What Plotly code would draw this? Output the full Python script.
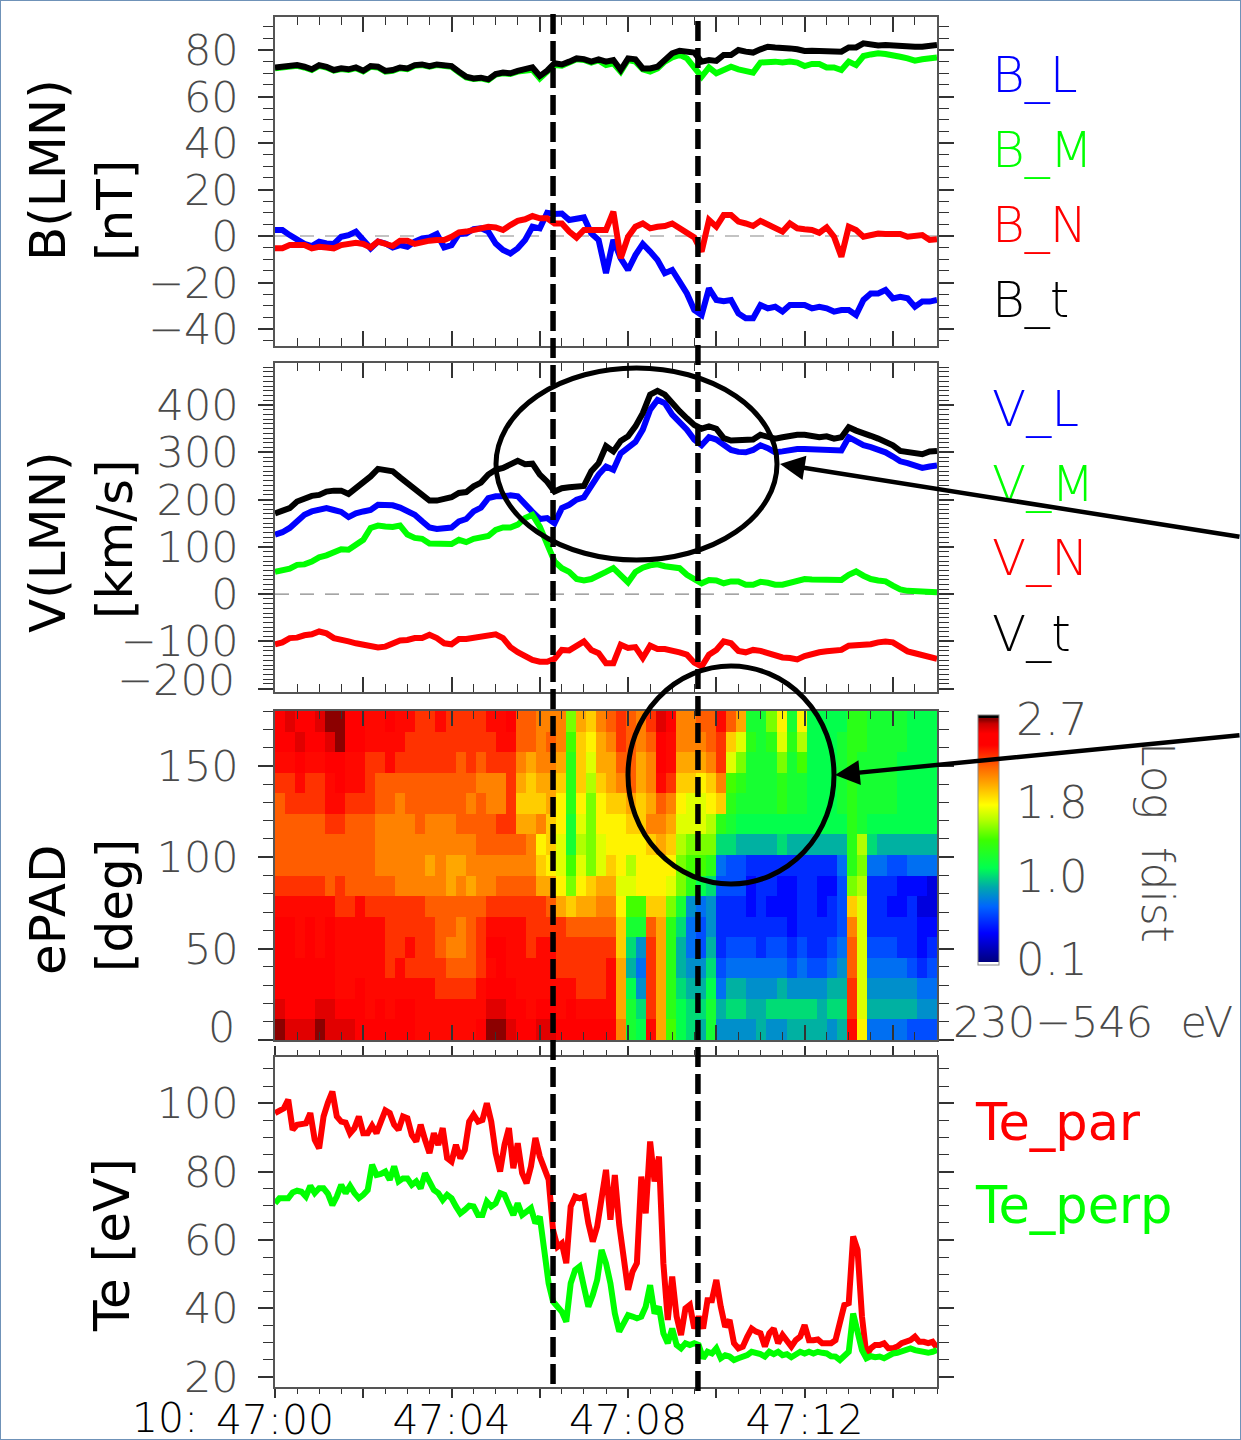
import plotly.graph_objects as go

W, H = 1241, 1440
FONT = "DejaVu Sans"
GRAY = "#4a4a4a"

# ---- time grids (seconds after 10:47:00)
t_fields = list(range(0, 901, 10))
t_te = list(range(0, 901, 6))

# ---- B(LMN) [nT]
B_L = [2.6,2.6,.4,-1.4,-3.4,-4.3,-2.4,-3.2,-3.4,-.3,.4,1.9,-1.7,-5.3,-2.4,-3.2,-4.9,-3.9,-4.6,-2.4,-1,-.6,.9,-4.9,-3.9,.9,1.1,3,3.3,1.9,-3.2,-6,-7.5,-5.3,-1.7,4,3.3,10,9.5,9.7,6.9,7.2,8,1.1,-1.7,
       -16,-1.7,-9.6,-14.6,-8.2,-3.4,-6.7,-10.3,-16,-14.6,-19.6,-24.7,-31.8,-34,-22.5,-27.5,-28,-27.5,-33.3,-35.4,-35.4,-29.7,-31.1,-30.4,-32.5,-29.7,-29.7,-29.7,-31.1,-30.4,-31.1,-32.5,-31.8,-31.8,-34,-27.5,-24.7,-24.7,-23.2,-26.8,-26.1,-26.8,-30.4,-28.2,-28.2,-27.5]
B_M = [72.2,72.5,73,73.2,72.5,71.4,73.2,72.5,71.1,71.8,71.4,72.2,70.8,72.8,72.5,70.7,71.1,72.2,71.8,73.2,73.5,72.8,73.5,73.2,72.8,70.4,68.2,67.5,67.8,67.1,69.4,70,69.7,70.7,71.4,71.5,67.8,70.5,73.6,73.3,74.7,76,75.7,74.6,75.5,
       73.5,74.3,70.7,75.7,75,71.7,70.7,72.1,75,76.8,77.9,76.4,72.1,68.5,72.5,70,71.4,72.8,71.7,70.7,70.3,74.6,75,75,74.6,75,74.6,73.1,74,74,72.5,72.5,71.4,75,73.5,77.4,78.1,78.6,78.3,77.9,77.1,76.4,75.4,76,76.7,76.8]
B_N = [-5.3,-5.3,-3.9,-3.6,-3.9,-5.3,-4.6,-4.9,-5.3,-3.9,-3.4,-2.9,-3.4,-4.9,-2.4,-3.6,-4.3,-2,-2,-3.4,-2.4,-2,-1.7,-1.7,-.3,1.6,1.9,2.6,3.3,4,3.7,2.6,4.7,6.5,7.2,8.6,7.6,7.6,5.4,5.4,1.9,-.7,2.6,2.6,2.6,
       2.6,10.5,-9.6,-.3,4,5.4,3.3,4,4.3,5.4,3.3,.9,-.6,-6.7,6.9,4,9,9,6.2,5.4,4.3,6.5,5,3.3,1.9,5.4,3.3,2.9,2.6,1.4,3.7,-.3,-8.9,4,2.6,-.3,.4,1.1,.9,.9,.9,-.3,0,.4,-1.7,-1.4]
B_t = [72.5,72.8,73.3,73.5,72.8,71.7,73.5,72.8,71.4,72.1,71.7,72.5,71.1,73.1,72.8,71,71.4,72.5,72.1,73.5,73.8,73.1,73.8,73.5,73.1,70.7,68.5,67.8,68.1,67.4,69.7,70.3,70,71,71.7,72.5,68.8,71.1,74.3,73.8,75,76.4,76.1,75,76,
       75,75.7,71.4,76.4,76,72.1,72.1,72.8,76,78.6,79.7,79.3,78.9,75,75.7,75.3,77.9,77.9,80,79.3,78.9,80.3,81.4,81.1,81.1,80.7,80.3,79.6,79.7,79.7,79.7,79.7,79.3,81.1,81.1,82.9,82.2,82,82.2,81.9,82,81.4,81.4,81.4,81.9,82.2]

# ---- V(LMN) [km/s]
V_L = [126,131,140,155,168,175,177,182,178,174,163,171,175,178,189,188,188,183,175,168,154,141,138,138,141,154,159,175,183,203,207,207,209,207,189,174,159,161,150,182,189,200,205,228,253,
       270,263,298,309,322,348,390,411,404,380,365,348,327,315,332,327,316,305,301,300,305,315,309,300,302,305,307,307,307,305,307,306,304,332,323,315,311,307,300,291,281,277,272,267,270,272]
V_M = [47,49,54,62,63,69,78,82,89,95,94,103,115,140,145,143,142,145,126,119,117,107,106,106,106,115,110,117,121,123,136,141,141,147,161,168,143,104,69,55,47,32,29,32,41,
       47,55,41,25,47,56,61,63,59,56,55,41,32,23,30,29,23,27,27,20,20,26,24,20,20,24,30,32,31,31,32,31,30,41,48,39,32,29,27,18,10,7,6,6,6,4]
V_N = [-106,-102,-93,-92,-87,-85,-79,-83,-93,-95,-100,-104,-106,-109,-113,-111,-106,-98,-97,-93,-93,-86,-93,-104,-106,-95,-95,-93,-92,-90,-85,-93,-112,-123,-132,-139,-143,-143,-137,-118,-119,-109,-100,-118,-125,
       -146,-146,-107,-114,-112,-135,-109,-116,-116,-118,-123,-128,-145,-153,-128,-118,-100,-104,-120,-123,-118,-120,-124,-131,-134,-135,-138,-131,-126,-123,-121,-118,-118,-109,-109,-109,-106,-102,-100,-102,-112,-121,-125,-128,-133,-137]
V_t = [171,175,182,196,203,208,210,217,219,219,212,224,233,249,265,261,260,247,235,226,214,198,198,201,205,214,216,228,236,253,263,267,275,282,275,276,253,238,217,224,226,229,229,260,277,
       313,302,324,334,355,383,422,430,422,402,387,372,358,350,355,350,330,325,325,324,327,337,334,329,332,336,337,337,334,332,334,329,332,353,346,339,335,329,322,315,303,301,300,296,302,303]

# ---- Te [eV]
Te_par = [97.1,98,98.5,101,92.2,93.7,94.1,94.1,97.1,89.3,86.8,96.1,100.2,103.4,96.1,94.6,94.3,91.2,92.7,96.1,91.2,91.2,93.4,91.2,94.6,97.9,97.1,93.7,92.2,96.1,95.6,90.7,88.8,93.7,89.3,85.4,91.2,87.8,92.7,83.9,82.9,87.8,83.9,86.3,94.6,96.6,94.6,95.1,100,94.6,85.4,80,87.8,92.7,81,88.3,79.5,76.6,81.5,89.8,84.4,81.5,77.6,62.9,58,59,53.2,69.8,72.7,72.2,72.7,64.9,59.5,63.9,73.7,
          80.5,65.9,79,64.4,55.1,45.4,50.7,53.2,78.5,67.8,88.8,77.1,84.4,53.2,36.6,49.3,37.6,32.2,40,41,34.1,37.6,34.1,42.4,42.4,48.3,40.5,34.6,36.6,29.8,28.3,28.8,31.7,34.1,33.2,32.7,28.8,32.7,34.1,29.8,32.2,30.7,28.8,30.7,31.7,35.1,30.7,30.7,30.9,29.8,30,29.8,30.7,35.1,41,41.5,61,57.1,37.6,26.3,28.3,29.3,29.3,29.8,28.3,28.3,28.8,29.8,30.2,30.7,31.7,30.2,30.2,29.8,30.2,28.5]
Te_perp = [70.7,72.2,72.2,72.2,73.9,74.4,74.1,72.7,75.8,73.7,75.1,75.1,73.5,70.2,72.7,76.1,73.7,75.8,73.7,72.2,73.2,74.6,82,79,79.3,80,77.6,81.5,77.1,78,78,76.1,77.1,75.1,79.5,77.1,74.6,73.7,71.7,73.2,72.2,69.8,67.8,68.8,70,69.8,67.3,67.3,71.2,69.8,70.7,73.7,73.2,70.2,67.3,70.7,67.3,68.3,69.3,64.9,66.8,57.1,47.3,42,40.7,39,36.1,47.3,51.2,52.2,46.3,40.5,43.9,48.3,57.1,
           53.2,47.3,38.5,33.2,36.1,38,37.6,37.1,37.6,40.5,46.8,38.5,40.5,32.7,29.8,34.1,29.3,28.3,29.8,29.3,29.8,29.3,25.4,27.3,26.8,28.3,25.4,26.3,25.9,24.9,25.4,25.9,26.3,27.3,27,26.6,25.9,27.3,26.6,27.3,26.3,26.6,25.7,26.3,27.3,26.8,27.3,26.8,27.3,27,26.8,26,25.9,24.9,26.3,27.3,38.5,32.7,27.8,25.4,26,25.7,25.9,25.4,26.3,26.8,27,27.3,27.8,28.3,27.8,27.6,27.3,27,27.3,27.8]

# ---- ePAD log fdist x10, bottom row (0-11 deg) first, 16 pitch-angle bins by 66 time columns
epad_rows = [
 [27,26,26,26,27,26,26,26,25,25, 25,25,25,25,24,24,24,24,24,24, 25,27,27,26,25,25,26,26,25,25, 25,25,25,25,21,12,11,24,20,14, 11,10,9,12,8,8,8,8,9,8, 8,9,9,9,9,8,9,24,18,7, 7,7,7,6,6,6],
 [26,25,25,25,26,26,25,25,25,24, 25,24,25,25,24,24,24,24,24,24, 24,26,26,25,25,24,25,25,24,25, 24,24,24,24,20,12,10,23,20,13, 11,10,10,12,9,10,10,9,9,10, 10,10,10,10,9,10,10,23,17,9, 9,9,9,9,8,8],
 [25,25,25,25,25,25,24,24,25,24, 24,24,24,24,24,24,23,23,23,23, 24,25,25,25,24,24,24,24,24,24, 23,23,23,24,20,11,8,23,20,13, 10,9,9,11,7,9,9,8,8,8, 9,8,8,8,8,9,9,23,17,8, 8,8,8,8,7,7],
 [25,25,25,25,25,25,24,24,24,24, 24,23,24,23,23,23,23,22,22,22, 23,24,25,24,24,24,24,24,23,23, 23,23,23,24,20,9,7,23,20,13, 9,8,8,10,6,7,7,7,7,7, 7,6,7,6,6,7,8,22,17,7, 7,7,7,6,5,6],
 [25,25,24,25,24,25,24,24,24,24, 24,23,23,24,23,23,22,21,21,22, 23,25,25,24,24,23,24,24,23,23, 23,23,23,23,19,10,8,23,20,13, 9,7,6,9,5,6,6,6,5,6, 6,5,6,5,5,6,7,22,17,6, 6,6,5,5,4,5],
 [25,25,24,25,24,25,24,24,24,24, 24,23,23,23,23,23,22,22,21,22, 23,24,24,24,24,23,23,23,23,22, 22,22,22,22,19,12,12,22,20,13, 10,7,6,8,5,5,5,5,5,5, 5,4,5,5,5,5,6,21,17,5, 5,5,5,5,4,4],
 [24,24,24,24,24,24,23,23,24,23, 23,23,23,23,23,22,22,22,22,22, 22,23,23,23,23,23,23,22,20,19, 20,20,21,21,18,14,14,19,19,15, 12,8,7,8,5,5,5,4,5,4, 4,4,5,5,4,5,6,19,17,5, 5,4,4,5,3,3],
 [23,23,23,23,23,22,23,22,22,22, 22,22,21,21,21,21,21,20,21,20, 21,21,22,22,22,22,20,20,18,15, 18,19,20,20,17,17,18,18,18,17, 15,13,11,10,6,6,6,4,5,5, 4,4,5,5,4,4,6,15,16,5, 5,5,4,4,4,3],
 [22,22,22,22,22,22,22,22,22,22, 21,21,21,21,21,20,21,20,20,21, 21,21,21,21,21,21,19,18,17,14, 17,15,17,19,18,16,18,18,18,18, 15,14,14,13,7,6,6,5,5,5, 5,5,5,5,5,5,7,13,15,7, 7,6,6,7,7,7],
 [22,22,22,22,22,22,22,22,22,22, 21,21,21,21,21,21,21,21,21,21, 22,22,22,22,22,21,18,19,17,12, 16,15,17,18,18,18,18,19,20,19, 16,15,15,15,10,10,9,9,9,9, 10,9,9,9,9,9,9,13,16,10, 9,9,9,9,9,9],
 [22,22,22,22,22,23,23,22,22,22, 21,21,21,21,22,21,21,21,22,22, 22,22,23,23,20,20,21,19,18,12, 17,15,18,18,18,19,19,21,21,20, 17,17,17,16,13,12,11,11,11,11, 11,11,11,11,11,11,11,13,12,11, 11,11,11,11,11,11],
 [22,23,23,23,23,24,24,23,23,23, 22,22,21,22,22,22,22,22,22,21, 22,21,21,23,19,19,19,20,18,13, 18,15,18,19,19,20,19,20,22,21, 18,17,17,18,19,13,12,12,12,12, 13,12,12,11,11,11,12,13,12,12, 12,12,11,11,11,11],
 [23,23,24,23,23,24,25,24,24,23, 22,22,22,22,22,22,22,22,22,22, 21,21,21,23,20,19,20,20,19,13, 19,16,19,20,21,22,20,21,24,23, 19,19,18,19,21,14,13,12,12,12, 13,12,12,11,11,11,12,13,12,12, 12,12,11,11,11,11],
 [24,24,25,24,24,25,25,24,24,23, 23,24,23,23,23,23,23,23,22,23, 22,23,23,23,21,20,21,21,20,13, 19,17,20,20,22,22,20,21,25,24, 20,20,20,21,23,17,15,12,12,12, 15,12,14,11,11,11,12,13,12,12, 12,12,11,11,11,11],
 [25,25,26,25,25,26,27,25,25,24, 24,24,24,23,23,23,23,23,23,23, 23,23,24,24,22,22,21,22,21,14, 19,18,20,21,23,22,21,22,25,24, 21,21,21,22,23,19,17,13,12,13, 17,13,16,11,11,11,12,13,13,12, 12,12,12,11,11,11],
 [25,26,25,25,26,27,27,25,25,24, 24,25,24,24,23,23,24,23,23,23, 23,24,24,25,22,22,21,21,21,15, 20,19,21,22,23,22,21,23,26,25, 21,21,22,22,24,22,20,12,12,15, 18,12,18,11,11,11,11,13,13,12, 12,12,12,11,11,11],
]
epad_x_edges = [i * 900 / 66 for i in range(67)]
epad_y_edges = [i * 11.25 for i in range(17)]
epad_z = [[v / 10 for v in row] for row in epad_rows]

for name, s, n in [("B_L",B_L,91),("B_M",B_M,91),("B_N",B_N,91),("B_t",B_t,91),("V_L",V_L,91),("V_M",V_M,91),("V_N",V_N,91),("V_t",V_t,91),("Te_par",Te_par,151),("Te_perp",Te_perp,151)]:
    assert len(s) == n, (name, len(s))
assert len(epad_rows) == 16 and all(len(r) == 66 for r in epad_rows), [len(r) for r in epad_rows]

rainbow = [[0,"#ffffff"],[.0133,"#ffffff"],[.0134,"#000080"],[.127,"#0000ff"],[.233,"#0064ff"],[.313,"#00aaaa"],
           [.387,"#00ff50"],[.5,"#3cff00"],[.58,"#b4ff00"],[.64,"#ffff00"],[.727,"#ffa500"],[.793,"#ff6400"],
           [.88,"#ff0000"],[.925,"#ff0000"],[.965,"#c80000"],[.98,"#8c0000"],[.986,"#8c0000"],[.987,"#000000"],[1,"#000000"]]

px = lambda v: v / W
py = lambda v: 1 - v / H
panels = [(17, 346), (363, 692), (711, 1040), (1057, 1387)]

fig = go.Figure()
line_w = 6
def add_line(t, y, color, idx):
    fig.add_trace(go.Scatter(x=t, y=y, mode="lines", line=dict(color=color, width=line_w),
                             xaxis=f"x{idx}", yaxis=f"y{idx}", showlegend=False, hoverinfo="skip"))

for s, c in [(B_L,"#0000ff"),(B_M,"#00ff00"),(B_N,"#ff0000"),(B_t,"#000000")]:
    add_line(t_fields, s, c, 1)
for s, c in [(V_L,"#0000ff"),(V_M,"#00ff00"),(V_N,"#ff0000"),(V_t,"#000000")]:
    add_line(t_fields, s, c, 2)

fig.add_trace(go.Heatmap(x=epad_x_edges, y=epad_y_edges, z=epad_z, xaxis="x3", yaxis="y3",
    colorscale=rainbow, zmin=0.035, zmax=2.744, hoverinfo="skip",
    colorbar=dict(x=px(978), xanchor="left", xpad=0, ypad=0, y=py(965), yanchor="bottom",
                  lenmode="pixels", len=250, thicknessmode="pixels", thickness=21,
                  outlinecolor="#888888", outlinewidth=1, ticks="outside", ticklen=8, tickcolor="rgba(0,0,0,0)",
                  tickmode="array", tickvals=[2.7,1.8,1.0,0.1], ticktext=["2.7","1.8","1.0","0.1"],
                  ticklabelposition="outside",
                  tickfont=dict(family=FONT, size=45, color=GRAY, weight=200))))

add_line(t_te, Te_par, "#ff0000", 4)
add_line(t_te, Te_perp, "#00ff00", 4)

x_major = list(range(0, 901, 120))
x_text = {0:"47:00", 240:"47:04", 480:"47:08", 720:"47:12"}
for i, (top, bot) in enumerate(panels, 1):
    inside = i < 4
    fig.layout[f"xaxis{i if i>1 else ''}"] = dict(
        domain=[px(275), px(937)], range=[0, 900], anchor=f"y{i}",
        showgrid=False, zeroline=False, showline=True, linecolor="#555555", linewidth=1.5, mirror="ticks",
        ticks="inside" if inside else "outside", ticklen=15 if inside else 9, tickcolor="#333333", tickwidth=1.5,
        tickmode="array", tickvals=x_major,
        ticktext=[x_text.get(v, "") if not inside else "" for v in x_major],
        tickfont=dict(family=FONT, size=41, color="#000000", weight=300), ticklabelstandoff=-13 if not inside else 0,
        minor=dict(tick0=0, dtick=30, ticks="inside" if inside else "outside", ticklen=8 if inside else 5,
                   tickcolor="#333333", tickwidth=1.2, showgrid=False))

y_specs = [
    dict(range=[-47.3,94.2], vals=[-40,-20,0,20,40,60,80], text=["−40","−20","0","20","40","60","80"], minor=5),
    dict(range=[-207,489], vals=[-200,-100,0,100,200,300,400], text=["","−100","0","100","200","300","400"], minor=10),
    dict(range=[0,180], vals=[0,50,100,150], text=["","50","100","150"], minor=10),
    dict(range=[17,113.5], vals=[20,40,60,80,100], text=["20","40","60","80","100"], minor=5),
]
for i, ((top, bot), sp) in enumerate(zip(panels, y_specs), 1):
    fig.layout[f"yaxis{i if i>1 else ''}"] = dict(
        domain=[py(bot), py(top)], range=sp["range"], anchor=f"x{i}",
        showgrid=False, zeroline=False, showline=True, linecolor="#555555", linewidth=1.5, mirror="ticks",
        ticks="outside", ticklen=15, tickcolor="#333333", tickwidth=1.5,
        tickmode="array", tickvals=sp["vals"], ticktext=sp["text"], ticklabelstandoff=11,
        tickfont=dict(family=FONT, size=43, color=GRAY, weight=200),
        minor=dict(tick0=0, dtick=sp["minor"], ticks="outside", ticklen=10, tickcolor="#333333", tickwidth=1.2, showgrid=False))

def text(x, y, s, size=40, color=GRAY, angle=0, weight=200, xanchor="left", yanchor="middle"):
    fig.add_annotation(x=px(x), y=py(y), xref="paper", yref="paper", text=s, showarrow=False,
                       textangle=angle, xanchor=xanchor, yanchor=yanchor, align="left",
                       font=dict(family=FONT, size=size, color=color, weight=weight))

# y titles (rotated, bottom aligned)
for x, y, s in [(48,170,"B(LMN)"),(115,211,"[nT]"),(48,542,"V(LMN)"),(115,539,"[km/s]"),
                (48,910,"ePAD"),(115,906,"[deg]"),(112,1245,"Te [eV]")]:
    text(x, y, s, size=50, color="#000000", angle=-90, weight=400, xanchor="center")

# panel legends
for y, s, c in [(75,"B_L","#0000ff"),(150,"B_M","#00ff00"),(225,"B_N","#ff0000"),(300,"B_t","#000000"),
                (409,"V_L","#0000ff"),(484,"V_M","#00ff00"),(558,"V_N","#ff0000"),(634,"V_t","#000000")]:
    text(990, y, s, size=50, color=c)
text(973, 1122, "Te_par", size=51, color="#ff0000", weight=400)
text(973, 1205, "Te_perp", size=51, color="#00ff00", weight=400)

text(237, 680, "−200", size=43, xanchor="right")
text(237, 1027, "0", size=43, xanchor="right")
text(1158, 842, "Log  fdist", size=44, angle=90, xanchor="center")
text(951, 1022, "230−546  eV", size=43)
text(130, 1418, "10:", size=41, color="#000000", weight=300)

# event lines and highlight marks
fig.add_shape(type="line", xref="x4", yref="paper", x0=378, x1=378, y0=py(14), y1=py(1388),
              line=dict(color="#000000", width=5.5, dash="20px,7px"))
fig.add_shape(type="line", xref="x4", yref="paper", x0=575, x1=575, y0=py(21), y1=py(1395),
              line=dict(color="#000000", width=5.5, dash="20px,7px"))
fig.add_shape(type="circle", xref="paper", yref="paper", x0=px(496), x1=px(777), y0=py(560), y1=py(368),
              line=dict(color="#000000", width=5))
fig.add_shape(type="circle", xref="paper", yref="paper", x0=px(628), x1=px(834), y0=py(884), y1=py(666),
              line=dict(color="#000000", width=5))
for a, b, c, d in [(1245,537,780,464),(1245,735,835,775)]:
    fig.add_annotation(x=px(c), y=py(d), ax=a-c, ay=b-d, xref="paper", yref="paper", axref="pixel", ayref="pixel",
                       text="", showarrow=True, arrowhead=2, arrowsize=1.1, arrowwidth=4.5, arrowcolor="#000000")
fig.add_shape(type="rect", xref="paper", yref="paper", x0=0, x1=1, y0=0, y1=1,
              line=dict(color="#6f92b8", width=2))

# zero reference lines
for i in (1, 2):
    fig.add_shape(type="line", xref="paper", yref=f"y{i}", x0=px(275), x1=px(937), y0=0, y1=0, layer="below",
                  line=dict(color="#888888", width=1.2, dash="14px,11px"))

fig.update_layout(width=W, height=H, margin=dict(l=0, r=0, t=0, b=0, autoexpand=False), paper_bgcolor="#ffffff",
                  plot_bgcolor="#ffffff", showlegend=False, font=dict(family=FONT))
fig.write_html("out.html", config=dict(displayModeBar=False),
               post_script="document.body.style.margin='0';document.documentElement.style.overflow='hidden';")
